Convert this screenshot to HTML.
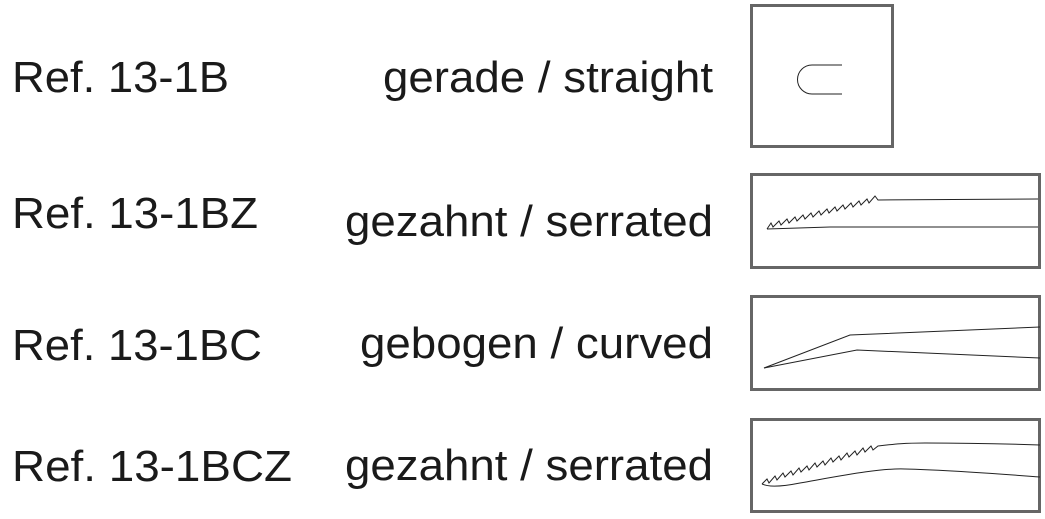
<!DOCTYPE html>
<html><head><meta charset="utf-8"><style>
html,body{margin:0;padding:0;background:#fff;width:1045px;height:519px;overflow:hidden}
svg{display:block}
text{font-family:"Liberation Sans",Arial,sans-serif;font-size:44px;fill:#1a1a1a}
</style></head><body>
<svg width="1045" height="519" viewBox="0 0 1045 519">
<text x="12" y="92" textLength="217" lengthAdjust="spacingAndGlyphs">Ref. 13-1B</text>
<text x="12" y="228" textLength="246" lengthAdjust="spacingAndGlyphs">Ref. 13-1BZ</text>
<text x="12" y="360" textLength="250" lengthAdjust="spacingAndGlyphs">Ref. 13-1BC</text>
<text x="12" y="481" textLength="280" lengthAdjust="spacingAndGlyphs">Ref. 13-1BCZ</text>
<text x="383" y="92" textLength="330" lengthAdjust="spacingAndGlyphs">gerade / straight</text>
<text x="345" y="236" textLength="368" lengthAdjust="spacingAndGlyphs">gezahnt / serrated</text>
<text x="360" y="358" textLength="353" lengthAdjust="spacingAndGlyphs">gebogen / curved</text>
<text x="345" y="480" textLength="368" lengthAdjust="spacingAndGlyphs">gezahnt / serrated</text>
<g fill="none" stroke="#666" stroke-width="3">
<rect x="751.5" y="5.5" width="141" height="141"/>
<rect x="751.5" y="174.5" width="288" height="93"/>
<rect x="751.5" y="296.5" width="288" height="93"/>
<rect x="751.5" y="419.5" width="288" height="92"/>
</g>
<g fill="none" stroke="#222" stroke-width="1">
<path d="M842 65 H812 A14.5 14.5 0 0 0 812 94 H842"/>
<path d="M767 229 L771 223 L773 227 L779 221 L781 225 L787 219 L789 223 L795 217 L797 221 L803 215 L805 219 L811 213 L813 217 L819 211 L821 215 L827 209 L829 213 L835 207 L837 211 L843 205 L845 209 L851 203 L853 207 L859 201 L861 205 L867 199 L869 203 L875 196 L878 200 L1038 199"/>
<path d="M767 229 L830 227 L1038 227"/>
<path d="M764 368 L850 335 L1040 327"/>
<path d="M764 368 L857 350 L1040 358"/>
<path d="M762 484 L767 479 L769 483 L775 476 L777 480 L783 473 L785 477 L791 471 L793 475 L799 468 L801 472 L807 466 L809 470 L815 463 L817 467 L823 461 L825 465 L831 458 L833 462 L839 456 L841 460 L847 453 L849 457 L855 451 L857 455 L863 448 L865 452 L871 446 L873 450 L878 446 C895 444 905 443 925 443 C970 443 1010 444 1040 445"/>
<path d="M762 484 C770 488 785 486 800 483 C840 476 880 468 905 469 C950 470 1000 474 1040 477"/>
</g>
</svg>
</body></html>
